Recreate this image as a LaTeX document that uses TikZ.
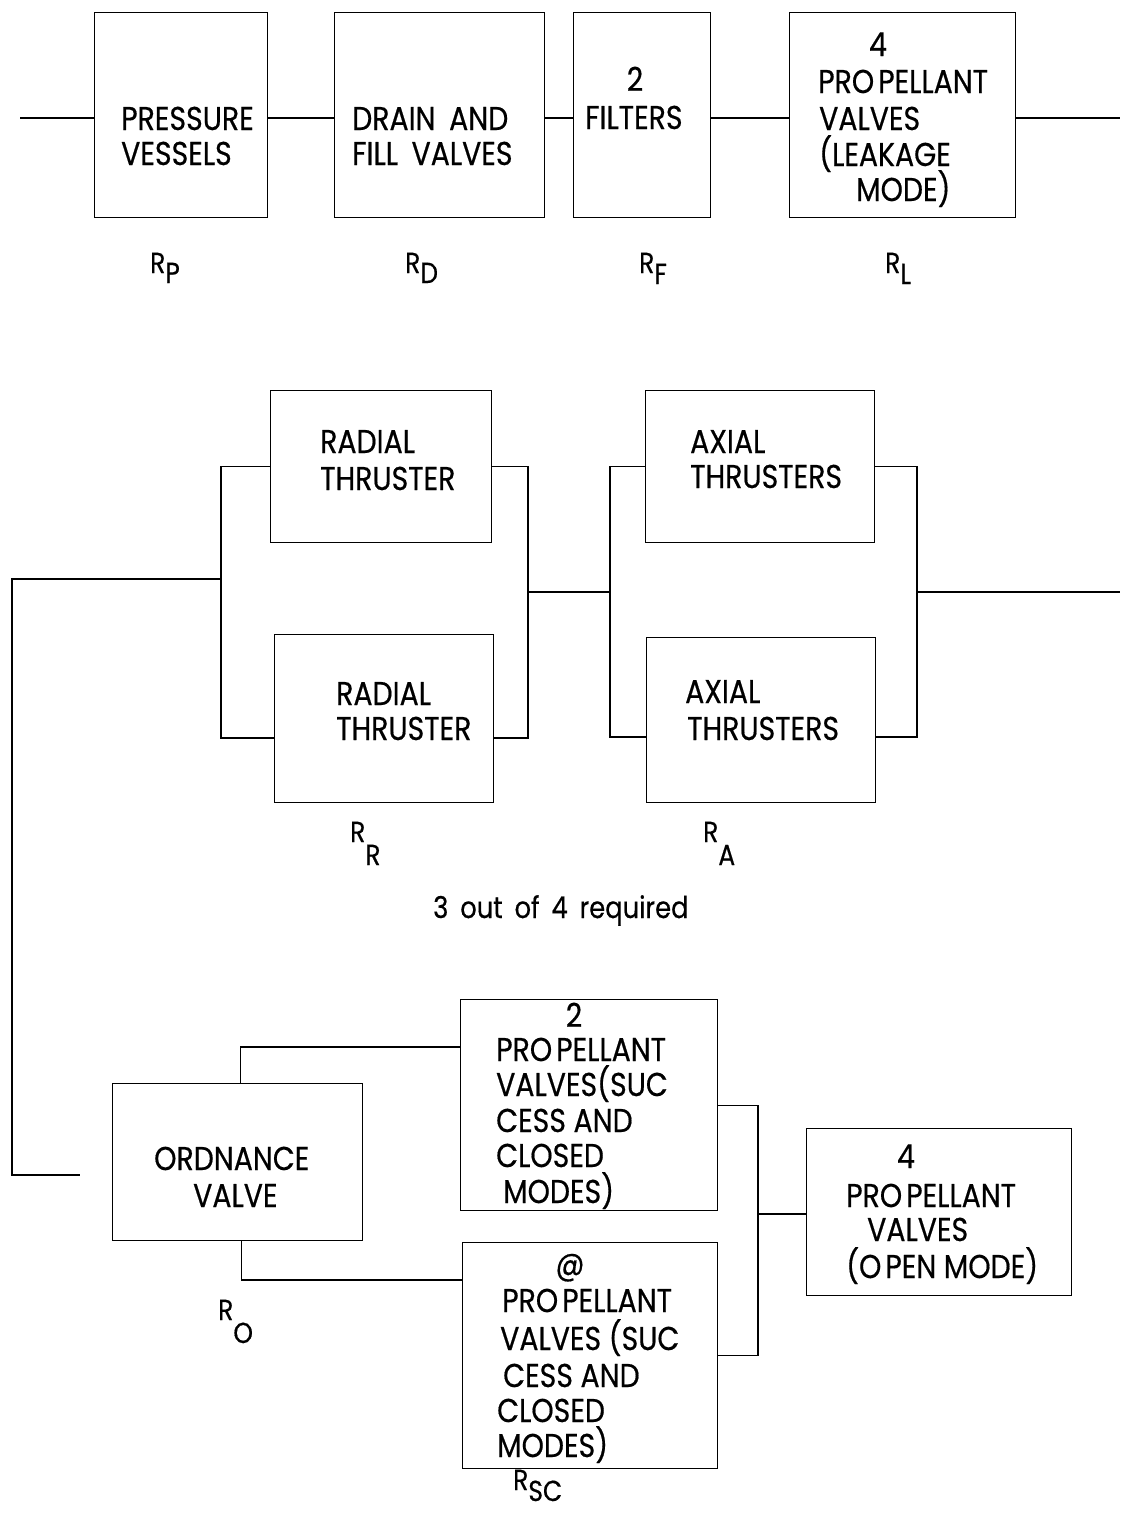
\documentclass[tikz,border=0pt]{standalone}
\usepackage{fontspec}
\setmainfont{Poppins}[FakeStretch=0.86,FakeBold=0.5]
\begin{document}
\begin{tikzpicture}[x=1pt,y=-1pt]
\tikzset{
  blk/.style={draw, line width=1.3pt, rectangle, inner sep=0pt, anchor=north west},
  wire/.style={line width=1.3pt},
  txt/.style={inner sep=0pt, font=\fontsize{33}{36}\selectfont, anchor=base west},
  lbl/.style={inner sep=0pt, font=\fontsize{29}{30}\selectfont, anchor=base west},
  note/.style={inner sep=0pt, font=\fontsize{30}{32}\selectfont, anchor=base west},
}
\useasboundingbox (0,0) rectangle (1120,1513);
% ---------- top row ----------
\node[blk, minimum width=173pt, minimum height=205pt] (pv) at (94,12) {};
\node[blk, minimum width=210pt, minimum height=205pt] (dr) at (334,12) {};
\node[blk, minimum width=137pt, minimum height=205pt] (fi) at (573,12) {};
\node[blk, minimum width=226pt, minimum height=205pt] (pl) at (789,12) {};
\coordinate (tin) at (20,118);
\coordinate (tout) at (1120,118);
\draw[wire] (tin) -- (tin -| pv.west);
\draw[wire] (tin -| pv.east) -- (tin -| dr.west);
\draw[wire] (tin -| dr.east) -- (tin -| fi.west);
\draw[wire] (tin -| fi.east) -- (tin -| pl.west);
\draw[wire] (tin -| pl.east) -- (tout);

\node[txt] (tpv1) at (121,130) {PRESSURE};
\node[txt] (tpv2) at (121,165) {VESSELS};
\node[txt] (tdr1) at (352,130) {DRAIN\kern6pt\ AND};
\node[txt] (tdr2) at (352,165) {FILL\kern6pt\ VALVES};
\node[txt,anchor=base] (tfi1) at (635,91) {2};
\node[txt] (tfi2) at (585,129) {FILTERS};
\node[txt,anchor=base] (tpl1) at (878,56) {4};
\node[txt] (tpl2) at (818,93) {PRO\kern4pt PELLANT};
\node[txt] (tpl3) at (819,130) {VALVES};
\node[txt] (tpl4) at (819,166) {(LEAKAGE};
\node[txt] (tpl5) at (856,201) {MODE)};

\node[lbl] (lp) at (150,273) {R\raisebox{-10pt}{P}};
\node[lbl] (ld) at (405,273) {R\raisebox{-10pt}{D}};
\node[lbl] (lf) at (639,273) {R\raisebox{-11pt}{F}};
\node[lbl] (ll) at (885,273) {R\raisebox{-11pt}{L}};

% ---------- middle ----------
\node[blk, minimum width=221pt, minimum height=152pt] (rt) at (270,390) {};
\node[blk, minimum width=219pt, minimum height=168pt] (rb) at (274,634) {};
\node[blk, minimum width=229pt, minimum height=152pt] (at) at (645,390) {};
\node[blk, minimum width=229pt, minimum height=165pt] (ab) at (646,637) {};
\coordinate (lbk) at (221,579);
\coordinate (rbk) at (528,592);
\coordinate (lak) at (610,592);
\coordinate (rak) at (917,592);
\coordinate (mout) at (1120,592);
\coordinate (yrb) at (0,738);
\coordinate (yab) at (0,737);
\coordinate (fc1) at (12,579);
\coordinate (fc2) at (12,1175);
\coordinate (fend) at (80,1175);
\draw[wire] (rt.west) -| (lbk) |- (yrb -| rb.west);
\draw[wire] (rt.east) -| (rbk) |- (yrb -| rb.east);
\draw[wire] (rbk) -- (lak);
\draw[wire] (at.west) -| (lak) |- (yab -| ab.west);
\draw[wire] (at.east) -| (rak) |- (yab -| ab.east);
\draw[wire] (rak) -- (mout);
\draw[wire] (lbk) -- (fc1) -- (fc2) -- (fend);

\node[txt] (trt1) at (320,453) {RADIAL};
\node[txt] (trt2) at (320,490) {THRUSTER};
\node[txt] (trb1) at (336,705) {RADIAL};
\node[txt] (trb2) at (336,740) {THRUSTER};
\node[txt] (tat1) at (690,453) {AXIAL};
\node[txt] (tat2) at (690,488) {THRUSTERS};
\node[txt] (tab1) at (685,703) {AXIAL};
\node[txt] (tab2) at (687,740) {THRUSTERS};

\node[lbl] (lr) at (350,842) {R\raisebox{-23pt}{R}};
\node[lbl] (la) at (703,842) {R\raisebox{-23pt}{A}};
\node[note] (req) at (433,918) {3\kern5pt\ out\kern5pt\ of\kern5pt\ 4\kern5pt\ required};

% ---------- bottom ----------
\node[blk, minimum width=250pt, minimum height=157pt] (ov) at (112,1083) {};
\node[blk, minimum width=257pt, minimum height=211pt] (sc1) at (460,999) {};
\node[blk, minimum width=255pt, minimum height=226pt] (sc2) at (462,1242) {};
\node[blk, minimum width=265pt, minimum height=167pt] (om) at (806,1128) {};
\coordinate (yu) at (0,1047);
\coordinate (yl) at (0,1280);
\coordinate (rj) at (758,1214);
\draw[wire] ([xshift=3pt]ov.north) |- (yu -| sc1.west);
\draw[wire] ([xshift=4pt]ov.south) |- (yl -| sc2.west);
\draw[wire] (sc1.east) -| (rj) |- (sc2.east);
\draw[wire] (rj) -- (rj -| om.west);

\node[txt] (tov1) at (154,1170) {ORDNANCE};
\node[txt] (tov2) at (193,1207) {VALVE};

\node[txt,anchor=base] (tom1) at (906,1168) {4};
\node[txt] (tom2) at (846,1207) {PRO\kern4pt PELLANT};
\node[txt] (tom3) at (867,1241) {VALVES};
\node[txt] (tom4) at (846,1278) {(O\kern4pt PEN MODE)};

\node[txt,anchor=base] (ts11) at (574,1027) {2};
\node[txt] (ts12) at (496,1061) {PRO\kern4pt PELLANT};
\node[txt] (ts13) at (496,1096) {VALVES(SUC};
\node[txt] (ts14) at (496,1132) {CESS AND};
\node[txt] (ts15) at (496,1167) {CLOSED};
\node[txt] (ts16) at (503,1203) {MODES)};

\node[txt,anchor=base] (ts21) at (570,1275) {@};
\node[txt] (ts22) at (502,1312) {PRO\kern4pt PELLANT};
\node[txt] (ts23) at (500,1350) {VALVES (SUC};
\node[txt] (ts24) at (503,1387) {CESS AND};
\node[txt] (ts25) at (497,1422) {CLOSED};
\node[txt] (ts26) at (497,1457) {MODES)};

\node[lbl] (lo) at (218,1320) {R\raisebox{-23pt}{O}};
\node[lbl] (lsc) at (513,1490) {R\raisebox{-11pt}{SC}};
\end{tikzpicture}
\end{document}
